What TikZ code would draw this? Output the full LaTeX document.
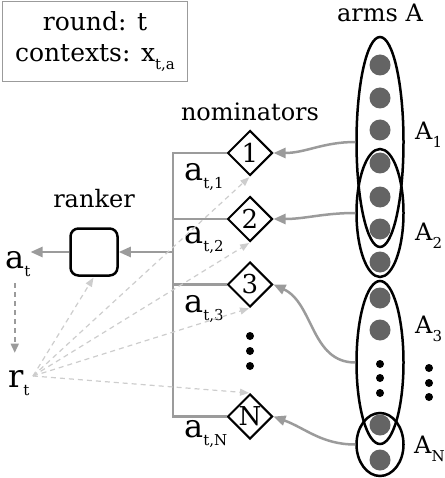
\documentclass[tikz,border=0pt]{standalone}
\usepackage{fontspec}
\setmainfont{DejaVu Serif}
\usetikzlibrary{arrows.meta}
\usetikzlibrary{positioning}
\usetikzlibrary{shapes,shapes.geometric,calc}
\definecolor{linegray}{RGB}{155,155,155}
\definecolor{fangray}{RGB}{205,205,205}
\definecolor{armgray}{RGB}{100,100,100}
\newcommand{\lsub}[1]{\raisebox{-8pt}{\fontsize{15}{15}\selectfont #1}}
\newcommand{\vlet}[1]{{\fontsize{32}{32}\selectfont #1}}

\begin{document}
\begin{tikzpicture}[x=1pt,y=-1pt,>={Triangle[length=12pt,width=10pt]},node distance=66pt,font=\fontsize{24}{31}\selectfont,
  info/.style={draw=linegray,line width=1.5pt,minimum width=185pt,minimum height=80pt,align=center,inner sep=0pt,font=\fontsize{25}{31}\selectfont},
  ranker/.style={draw,line width=2.5pt,rounded corners=8pt,minimum size=47pt,inner sep=0pt},
  nom/.style={draw,diamond,line width=2pt,minimum size=45pt,inner sep=0pt,font=\fontsize{26}{26}\selectfont},
  arm/.style={circle,fill=armgray,minimum size=21pt,inner sep=0pt},
  armset/.style={draw,ellipse,line width=2.5pt,minimum width=47pt,inner sep=0pt},
  smalldot/.style={circle,fill=black,minimum size=8pt,inner sep=0pt},
  lbl/.style={inner sep=0pt,anchor=base west},
  feed/.style={->,draw=linegray,line width=2.5pt},
  bracket/.style={draw=linegray,line width=2.5pt},
  fan/.style={-{Triangle[length=9pt,width=7pt]},draw=fangray,dash pattern=on 5pt off 4pt,line width=1.2pt,shorten >=1pt}]
\useasboundingbox (0,0) rectangle (444,478);

\node[info] (info) at (95,41.5) {round: t\\contexts: x\lsub{t,a}};

\node[ranker] (rk) at (94,252) {};
\node[anchor=base,inner sep=0pt] (rklabel) at (94,207) {ranker};
\node[lbl] (at) at (5,268) {\vlet{a}\lsub{t}};
\node[lbl] (rt) at (8,387) {\vlet{r}\lsub{t}};
\coordinate (fanroot) at (33,376);

\node[nom] (d1) at (250,153) {1};
\node[nom] (d2) [below of = d1] {2};
\node[nom] (d3) [below of = d2, node distance=65.5pt] {3};
\node[nom] (dN) [below of = d3, node distance=132pt] {N};
\node[anchor=base,inner sep=0pt] (nomlabel) at (250,121) {nominators};
\foreach \y [count=\i] in {336,351,366}
  \node[smalldot] (nd\i) at (250,\y) {};

\node[lbl] (at1) at (184,180) {\vlet{a}\lsub{t,1}};
\node[lbl] (at2) at (184,243) {\vlet{a}\lsub{t,2}};
\node[lbl] (at3) at (184,312) {\vlet{a}\lsub{t,3}};
\node[lbl] (atN) at (184,437) {\vlet{a}\lsub{t,N}};

% arms
\node[anchor=base,inner sep=0pt] (armlabel) at (380,22) {arms A};
\foreach \y [count=\i] in {65,98,130,163,197,229,262,298,330,425,460}
  \node[arm] (arm\i) at (380,\y) {};
\foreach \y [count=\i] in {364,378,393}
  \node[smalldot] (ad\i) at (380,\y) {};

\node[armset,minimum height=210pt] (A1) at (380,142) {};
\node[armset,minimum height=128pt] (A2) at (380,213) {};
\node[armset,minimum height=163pt] (A3) at (380,362.5) {};
\node[armset,minimum height=63pt] (AN) at (380,444.5) {};
\node[lbl] (A1lbl) at (415,140) {A\lsub{1}};
\node[lbl] (A2lbl) at (415,240) {A\lsub{2}};
\node[lbl] (A3lbl) at (415,333) {A\lsub{3}};
\node[lbl] (ANlbl) at (414,453) {A\lsub{N}};
\foreach \y [count=\i] in {368,383,397}
  \node[smalldot] (sd\i) at (429,\y) {};

% nominators to ranker
\coordinate (jn) at (173,252);
\draw[bracket] (d1.west) -| (dN.west -| jn) -- (dN.west);
\draw[bracket] (d2.west) -- (d2.west -| jn);
\draw[bracket] (d3.west) -- (d3.west -| jn);
\draw[feed] (jn) -- (rk.east);
\draw[feed] (rk.west) -- (rk.west -| at.east);
\draw[->,draw=linegray,line width=1.5pt,dash pattern=on 5pt off 4pt,shorten <=7pt,shorten >=17pt,>={Triangle[length=9pt,width=8pt]}] ([xshift=-3pt]at.south) -- ([xshift=-3pt]at.south |- rt.north);

% arms to nominators
\draw[feed] (A1.west) to[out=180,in=0] (d1.east);
\draw[feed] (A2.west) to[out=180,in=0] (d2.east);
\draw[feed] (A3.west) to[out=180,in=-25] (d3.east);
\draw[feed] (AN.west) to[out=180,in=-20] (dN.east);

% reward feedback
\foreach \tgt in {rk.south,d1.south,d2.south,d3.south,dN.north}
  \draw[fan] (fanroot) -- (\tgt);
\end{tikzpicture}
\end{document}
